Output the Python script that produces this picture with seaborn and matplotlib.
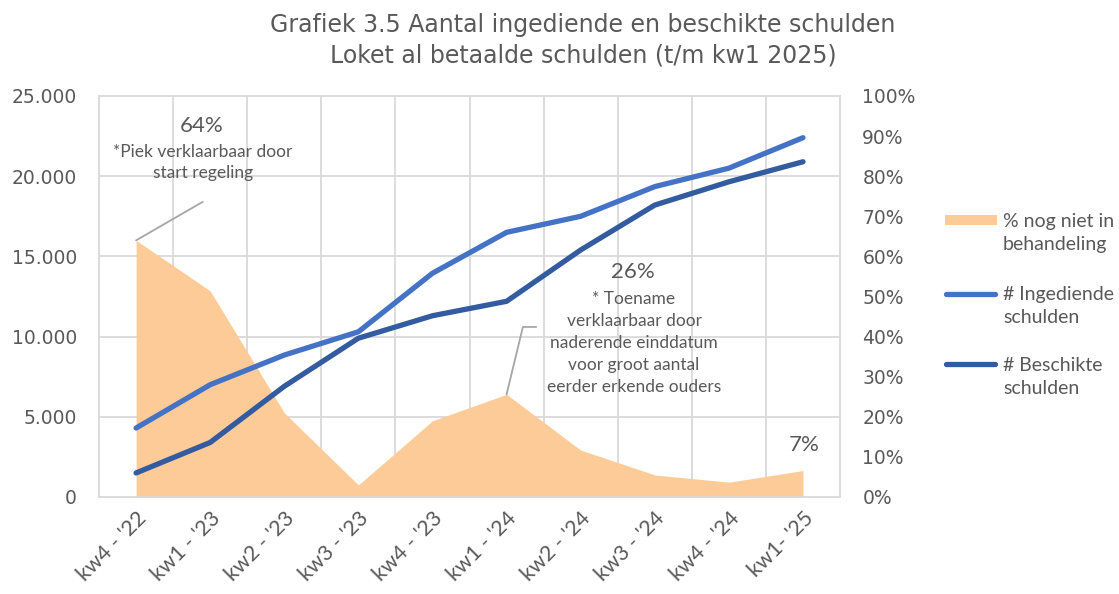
import pandas as pd
import seaborn as sns
import matplotlib.pyplot as plt
from matplotlib.lines import Line2D
from matplotlib.patches import Rectangle

kwartalen = ["kw4 - '22", "kw1 - '23", "kw2 - '23", "kw3 - '23", "kw4 - '23",
             "kw1 - '24", "kw2 - '24", "kw3 - '24", "kw4 - '24", "kw1- '25"]
ingediend = [4300, 7000, 8850, 10300, 13950, 16500, 17500, 19350, 20500, 22400]
beschikt = [1500, 3400, 6900, 9900, 11300, 12200, 15400, 18200, 19650, 20900]
pct_open = [64, 51.4, 21, 3, 19, 25.6, 11.7, 5.5, 3.7, 6.6]

df = pd.DataFrame({"pos": range(len(kwartalen)), "kwartaal": kwartalen,
                   "ingediend": ingediend, "beschikt": beschikt, "pct": pct_open})

oranje = "#FDCB98"
blauw = "#4472C4"
donkerblauw = "#335B9F"
grijs = "#595959"
rand = "#D9D9D9"
tekst_font = ["Lato", "DejaVu Sans"]

sns.set_theme(style="white")
plt.rcParams["font.family"] = ["DejaVu Sans"]

fig = plt.figure(figsize=(11.19, 5.94), dpi=100)
ax = fig.add_axes([0.0885, 0.1633, 0.6622, 0.6751])
ax2 = ax.twinx()

# % nog niet in behandeling (rechteras, achter de lijnen)
ax.fill_between(df["pos"], df["pct"], color=oranje, lw=0, zorder=2)
for v in (20, 40, 60, 80):
    ax.axhline(v, color=rand, lw=1.3, zorder=1)
for i in range(len(kwartalen) - 1):
    ax.axvline(i + 0.5, color=rand, lw=1.3, zorder=1)
ax.set_ylim(0, 100)
ax.set_xlim(-0.5, len(kwartalen) - 0.5)
ax.yaxis.tick_right()
ax.set_yticks(range(0, 101, 10))
ax.set_yticklabels([f"{v}%" for v in range(0, 101, 10)])
ax.set_xticks(df["pos"])
ax.set_xticklabels(kwartalen, rotation=45, ha="right", rotation_mode="anchor",
                   family=tekst_font)
ax.tick_params(axis="y", length=0, pad=16, labelsize=13.5, colors=grijs)
ax.tick_params(axis="x", length=0, pad=8, labelsize=15.5, colors=grijs)
for s in ax.spines.values():
    s.set_color(rand)
    s.set_linewidth(1.3)

# aantallen (linkeras)
sns.lineplot(data=df, x="pos", y="ingediend", ax=ax2, color=blauw, lw=3.8,
             solid_capstyle="round")
sns.lineplot(data=df, x="pos", y="beschikt", ax=ax2, color=donkerblauw, lw=3.8,
             solid_capstyle="round")
ax2.set_ylim(0, 25000)
ax2.set_xlim(-0.5, len(kwartalen) - 0.5)
ax2.yaxis.tick_left()
ax2.set_yticks(range(0, 25001, 5000))
ax2.set_yticklabels([f"{v:,}".replace(",", ".") for v in range(0, 25001, 5000)])
ax2.tick_params(axis="y", length=0, pad=16, labelsize=13.5, colors=grijs)
ax2.set_xlabel("")
ax2.set_ylabel("")
ax.set_ylabel("")
for s in ax2.spines.values():
    s.set_visible(False)

# annotaties
ax.text(0.89, 92.5, f"{round(pct_open[0])}%", ha="center", va="center",
        fontsize=16, color=grijs, family=tekst_font)
ax.text(0.9, 83.4, "*Piek verklaarbaar door\nstart regeling", ha="center",
        va="center", fontsize=12.5, color=grijs, family=tekst_font, linespacing=1.45)
ax.plot([0, 0.9], [pct_open[0], 73.6], color="#A6A6A6", lw=1.3, zorder=3)

ax.text(6.71, 56.1, f"{round(pct_open[5])}%", ha="center", va="center",
        fontsize=16, color=grijs, family=tekst_font)
ax.text(6.72, 38.4, "* Toename\nverklaarbaar door\nnaderende einddatum\n"
        "voor groot aantal\neerder erkende ouders", ha="center", va="center",
        fontsize=12.5, color=grijs, family=tekst_font, linespacing=1.45)
ax.plot([5, 5.22, 5.40], [pct_open[5], 42.4, 42.4], color="#A6A6A6", lw=1.3,
        zorder=3)

ax.text(9.02, 13, f"{round(pct_open[9])}%", ha="center", va="center",
        fontsize=16, color=grijs, family=tekst_font)

# titel
fig.text(583 / 1119, 1 - 40 / 594,
         "Grafiek 3.5 Aantal ingediende en beschikte schulden\n"
         "Loket al betaalde schulden (t/m kw1 2025)",
         ha="center", va="center", fontsize=17, color=grijs, linespacing=1.35)

# legenda
W, H = 1119, 594
fig.add_artist(Rectangle((945 / W, 1 - 225 / H), 52 / W, 10 / H,
                         transform=fig.transFigure, color=oranje, lw=0))
fig.add_artist(Line2D([946 / W, 995 / W], [1 - 294 / H] * 2, transform=fig.transFigure,
                      color=blauw, lw=3.8, solid_capstyle="round"))
fig.add_artist(Line2D([946 / W, 995 / W], [1 - 364 / H] * 2, transform=fig.transFigure,
                      color=donkerblauw, lw=3.8, solid_capstyle="round"))
for y, lab in [(222, "% nog niet in\nbehandeling"), (295, "# Ingediende\nschulden"),
               (366, "# Beschikte\nschulden")]:
    fig.text(1003 / W, 1 - (y - 9) / H, lab, ha="left", va="top", fontsize=14,
             color=grijs, family=tekst_font, linespacing=1.45)

fig.savefig("out.png", dpi=100)
